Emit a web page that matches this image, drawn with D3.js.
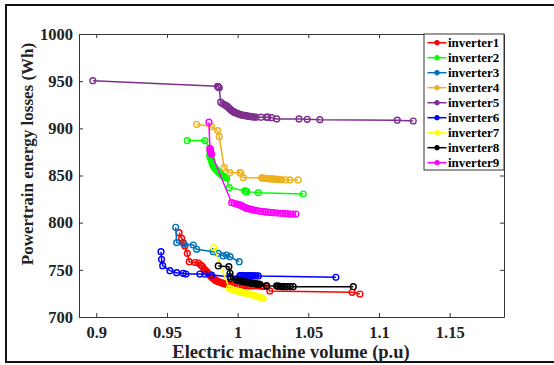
<!DOCTYPE html>
<html>
<head>
<meta charset="utf-8">
<script src="https://cdn.jsdelivr.net/npm/d3@7"></script>
<style>
  body { margin: 0; background: #fff; }
  text { font-family: "Liberation Serif", "Times New Roman", serif; font-weight: bold; }
</style>
</head>
<body>
<div id="chart"></div>
<script>
// values, [volume (p.u), losses (Wh)]
var inverter1 = [[0.9586,789.4],[0.9604,783.4],[0.9615,778.8],[0.9627,775.3],[0.9644,767.5],[0.9658,758.6],[0.9700,757.8],[0.9722,757.2],[0.9740,755.0],[0.9752,753.3],[0.9762,751.0],[0.9770,749.5],[0.9781,748.0],[0.9790,746.5],[0.9800,745.0],[0.9808,743.5],[0.9816,742.1],[0.9825,741.0],[0.9835,740.0],[0.9843,739.0],[0.9851,738.2],[0.9863,737.4],[0.9875,736.8],[0.9887,736.2],[0.9898,735.6],[0.9910,735.1],[0.9920,734.7],[0.9933,734.4],[0.9946,734.1],[0.9962,733.9],[0.9980,733.7],[0.9998,733.6],[1.0016,733.5],[1.0033,733.4],[1.0050,733.3],[1.0068,733.2],[1.0087,733.1],[1.0103,733.0],[1.0120,733.0],[1.0146,732.9],[1.0165,732.7],[1.0180,732.5],[1.0205,732.1],[1.0228,727.6],[1.0810,726.2],[1.0865,724.4]];
var inverter2 = [[0.9644,887.0],[0.9769,887.0],[0.9804,878.9],[0.9806,876.0],[0.9806,874.0],[0.9804,872.0],[0.9804,870.0],[0.9807,869.0],[0.9810,868.0],[0.9813,867.2],[0.9816,866.5],[0.9818,865.0],[0.9820,863.5],[0.9822,862.3],[0.9823,861.2],[0.9828,860.3],[0.9832,859.5],[0.9836,858.6],[0.9840,857.7],[0.9846,856.7],[0.9852,855.8],[0.9858,854.9],[0.9863,854.1],[0.9869,853.2],[0.9875,852.4],[0.9881,851.5],[0.9887,850.6],[0.9896,849.7],[0.9905,848.8],[0.9913,848.0],[0.9922,847.1],[0.9941,837.1],[1.0050,833.8],[1.0055,833.5],[1.0060,833.2],[1.0064,832.9],[1.0146,831.8],[1.0464,830.4]];
var inverter3 = [[0.9562,795.1],[0.9569,778.8],[0.9620,777.4],[0.9686,776.3],[0.9710,771.8],[0.9827,769.2],[0.9863,767.5],[0.9898,764.7],[0.9922,765.7],[0.9946,764.0],[1.0011,758.6]];
var inverter4 = [[0.9710,904.3],[0.9816,901.8],[0.9859,897.6],[0.9870,891.2],[0.9905,858.3],[0.9946,853.0],[1.0016,853.0],[1.0023,852.4],[1.0040,847.7],[1.0170,847.4],[1.0180,847.2],[1.0190,847.0],[1.0200,846.9],[1.0210,846.7],[1.0220,846.5],[1.0230,846.4],[1.0240,846.4],[1.0250,846.4],[1.0260,846.2],[1.0270,846.0],[1.0280,846.0],[1.0290,846.0],[1.0300,845.8],[1.0310,845.7],[1.0340,845.3],[1.0370,845.3],[1.0428,845.3]];
var inverter5 = [[0.8976,950.5],[0.9858,944.5],[0.9862,944.2],[0.9866,943.4],[0.9870,943.0],[0.9880,927.7],[0.9895,926.0],[0.9910,924.8],[0.9920,924.0],[0.9929,923.0],[0.9938,921.6],[0.9946,920.3],[0.9952,919.6],[0.9958,918.9],[0.9964,918.3],[0.9969,917.7],[0.9975,917.2],[0.9981,916.8],[0.9987,916.4],[0.9993,916.0],[1.0002,915.5],[1.0010,915.0],[1.0019,914.6],[1.0028,914.2],[1.0037,913.9],[1.0046,913.6],[1.0055,913.4],[1.0064,913.2],[1.0072,913.0],[1.0080,912.8],[1.0090,912.6],[1.0099,912.4],[1.0107,912.2],[1.0115,912.0],[1.0129,911.8],[1.0165,911.8],[1.0205,911.8],[1.0212,911.8],[1.0240,911.3],[1.0276,910.0],[1.0434,910.0],[1.0492,909.6],[1.0582,909.2],[1.1129,908.6],[1.1242,907.8]];
var inverter6 = [[0.9458,769.2],[0.9462,761.2],[0.9470,754.4],[0.9521,749.1],[0.9569,747.0],[0.9615,746.3],[0.9634,745.6],[0.9733,745.6],[0.9769,745.3],[0.9816,744.5],[0.9946,742.7],[1.0016,743.8],[1.0028,743.8],[1.0040,743.8],[1.0052,743.8],[1.0065,743.8],[1.0078,743.8],[1.0090,743.8],[1.0100,743.7],[1.0110,743.6],[1.0120,743.6],[1.0130,743.6],[1.0146,743.5],[1.0695,742.1]];
var inverter7 = [[0.9832,773.5],[0.9941,730.4],[0.9955,729.5],[0.9969,728.6],[0.9982,728.1],[0.9995,727.6],[1.0005,727.2],[1.0016,726.8],[1.0028,726.3],[1.0040,725.8],[1.0052,725.4],[1.0064,725.1],[1.0075,724.6],[1.0087,724.1],[1.0098,723.7],[1.0110,723.3],[1.0123,722.6],[1.0136,722.0],[1.0147,721.4],[1.0158,720.9],[1.0170,720.3],[1.0181,719.8]];
var inverter8 = [[0.9863,754.1],[0.9938,753.3],[0.9946,746.3],[0.9950,741.0],[0.9993,739.2],[1.0005,738.8],[1.0016,738.5],[1.0025,738.1],[1.0035,737.8],[1.0043,737.4],[1.0051,737.1],[1.0060,736.8],[1.0070,736.6],[1.0078,736.3],[1.0087,736.1],[1.0096,735.9],[1.0105,735.7],[1.0113,735.5],[1.0122,735.3],[1.0131,735.1],[1.0140,735.0],[1.0149,734.8],[1.0158,734.7],[1.0205,733.2],[1.0276,732.9],[1.0288,732.7],[1.0300,732.5],[1.0311,732.3],[1.0322,732.1],[1.0336,732.1],[1.0350,732.1],[1.0372,732.1],[1.0393,732.1],[1.0818,732.1]];
var inverter9 = [[0.9797,906.5],[0.9804,878.9],[0.9805,877.5],[0.9806,876.5],[0.9808,875.5],[0.9810,874.5],[0.9813,873.5],[0.9816,872.5],[0.9958,821.2],[0.9975,820.5],[0.9993,819.8],[1.0001,819.4],[1.0010,819.0],[1.0019,818.5],[1.0028,818.0],[1.0037,817.2],[1.0046,816.5],[1.0055,815.9],[1.0064,815.3],[1.0075,814.8],[1.0087,814.4],[1.0099,813.9],[1.0110,813.5],[1.0128,813.0],[1.0145,812.6],[1.0163,812.1],[1.0181,811.7],[1.0198,811.4],[1.0215,811.1],[1.0234,810.8],[1.0252,810.6],[1.0275,810.3],[1.0299,810.0],[1.0320,809.8],[1.0340,809.6],[1.0355,809.4],[1.0370,809.2],[1.0390,809.2],[1.0412,809.2]];

var seriesNames = ["inverter1","inverter2","inverter3","inverter4","inverter5","inverter6","inverter7","inverter8","inverter9"];
var seriesData = [inverter1, inverter2, inverter3, inverter4, inverter5, inverter6, inverter7, inverter8, inverter9];
var seriesColors = ["#ff0000","#00ff00","#0072bd","#edb120","#7e2f8e","#0000ff","#ffff00","#000000","#ff00ff"];

var xTicks = [0.9, 0.95, 1, 1.05, 1.1, 1.15];
var yTicks = [700, 750, 800, 850, 900, 950, 1000];

var width = 554, height = 365;
var plotLeft = 79, plotRight = 504, plotTop = 34, plotBottom = 317;
var serif = "'Liberation Serif', 'Times New Roman', serif";

var svg = d3.select("#chart")
  .append("svg")
    .attr("width", width)
    .attr("height", height);

// outer frame of the figure
svg.append("rect")
  .attr("x", 6)
  .attr("y", 5)
  .attr("width", 570)
  .attr("height", 357)
  .attr("fill", "none")
  .attr("stroke", "#111")
  .attr("stroke-width", 2);

var x = d3.scaleLinear().domain([0.8878, 1.1884]).range([plotLeft, plotRight]);
var y = d3.scaleLinear().domain([700, 1000]).range([plotBottom, plotTop]);

var fmt = function(d) { return String(+d.toFixed(2)); };

// axes, ticks pointing inward like matlab
var axisColor = "#333";
function styleAxis(g) {
  g.attr("font-family", serif);
  g.select(".domain").attr("stroke", axisColor);
  g.selectAll(".tick line").attr("stroke", axisColor);
  g.selectAll("text").attr("fill", "#222").style("font-size", "16.5px").style("font-family", serif);
}
svg.append("g")
  .attr("transform", "translate(0," + plotBottom + ")")
  .call(d3.axisBottom(x).tickValues(xTicks).tickFormat(fmt).tickSizeInner(-4).tickSizeOuter(0).tickPadding(9))
  .call(styleAxis);
svg.append("g")
  .attr("transform", "translate(" + plotLeft + ",0)")
  .call(d3.axisLeft(y).tickValues(yTicks).tickFormat(fmt).tickSizeInner(-4).tickSizeOuter(0).tickPadding(6))
  .call(styleAxis);
svg.append("g")
  .attr("transform", "translate(0," + plotTop + ")")
  .call(d3.axisTop(x).tickValues(xTicks).tickFormat("").tickSizeInner(-4).tickSizeOuter(0))
  .call(styleAxis);
svg.append("g")
  .attr("transform", "translate(" + plotRight + ",0)")
  .call(d3.axisRight(y).tickValues(yTicks).tickFormat("").tickSizeInner(-4).tickSizeOuter(0))
  .call(styleAxis);

// axis titles
svg.append("text")
  .attr("x", 291)
  .attr("y", 358)
  .attr("text-anchor", "middle")
  .attr("fill", "#222")
  .style("font-size", "18.5px")
  .text("Electric machine volume (p.u)");
svg.append("text")
  .attr("transform", "translate(33,154) rotate(-90)")
  .attr("text-anchor", "middle")
  .attr("fill", "#222")
  .style("font-size", "17px")
  .text("Powertrain energy losses (Wh)");

// series
var line = d3.line()
  .x(function(d) { return x(d[0]); })
  .y(function(d) { return y(d[1]); });

var series = svg.selectAll(".series")
  .data(seriesData)
  .enter()
  .append("g")
    .attr("class", "series");

series.append("path")
  .attr("d", line)
  .attr("fill", "none")
  .attr("stroke", function(d, i) { return seriesColors[i]; })
  .attr("stroke-width", 1.5);

series.each(function(d, i) {
  d3.select(this).selectAll("circle")
    .data(d)
    .enter()
    .append("circle")
      .attr("cx", function(p) { return x(p[0]); })
      .attr("cy", function(p) { return y(p[1]); })
      .attr("r", 2.9)
      .attr("fill", "none")
      .attr("stroke", seriesColors[i])
      .attr("stroke-width", 1.4);
});

// legend
var legend = svg.append("g");
legend.append("rect")
  .attr("x", 424)
  .attr("y", 34)
  .attr("width", 80)
  .attr("height", 136)
  .attr("fill", "#fff")
  .attr("stroke", "#333")
  .attr("stroke-width", 1);

var item = legend.selectAll(".item")
  .data(seriesNames)
  .enter()
  .append("g")
    .attr("class", "item")
    .attr("transform", function(d, i) { return "translate(0," + (42.7 + i * 15) + ")"; });

item.append("line")
  .attr("x1", 427.5)
  .attr("x2", 446.5)
  .attr("stroke", function(d, i) { return seriesColors[i]; })
  .attr("stroke-width", 1.5);
item.append("circle")
  .attr("cx", 437)
  .attr("r", 2.3)
  .attr("fill", function(d, i) { return seriesColors[i]; })
  .attr("stroke", function(d, i) { return seriesColors[i]; })
  .attr("stroke-width", 1);
item.append("text")
  .attr("x", 448)
  .attr("y", 4.5)
  .attr("fill", "#000")
  .style("font-size", "13px")
  .text(function(d) { return d; });
</script>
</body>
</html>
